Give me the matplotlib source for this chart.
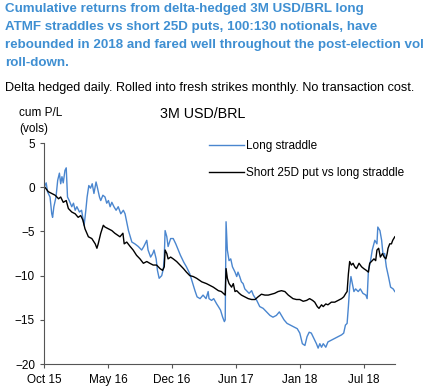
import matplotlib
matplotlib.use("Agg")
import matplotlib.pyplot as plt

# trading-day index (ticks every 150 days) and cumulative P/L in vols
straddle_days = [2, 5, 8, 14, 18, 20, 23, 28, 32, 36, 39, 42, 45, 49, 52, 55, 59, 65, 69, 73,
                 77, 83, 88, 94, 98, 101, 105, 109, 113, 117, 122, 125, 130, 133, 138, 143, 147, 151, 155, 159,
                 164, 169, 174, 180, 186, 190, 198, 206, 213, 221, 229, 234, 241, 244, 250, 255, 258, 263, 266, 270,
                 276, 280, 282, 284, 288, 291, 297, 303, 309, 315, 320, 328, 334, 342, 349, 354, 359, 366, 373, 380,
                 385, 387, 393, 398, 405, 409, 414, 419, 423, 425, 427, 430, 434, 438, 442, 448, 452, 455, 459, 463,
                 467, 471, 475, 481, 487, 491, 499, 506, 514, 522, 530, 537, 545, 552, 557, 563, 570, 578, 586, 594,
                 600, 606, 612, 617, 622, 627, 633, 639, 643, 647, 651, 655, 661, 666, 674, 682, 690, 698, 703, 707,
                 711, 714, 717, 720, 724, 727, 731, 737, 742, 748, 755, 758, 761, 766, 770, 776, 781, 783, 788, 792,
                 795, 799, 803, 808, 813, 819, 823]
straddle_pl = [0.2, 0.5, -0.5, -1.1, -3.0, -3.4, -2.2, -1.1, 0.8, 1.6, 0.4, 1.2, 0.5, 1.9, 2.2, -1.1, -1.5, -2.2, -1.8, -2.6,
               -2.2, -2.8, -2.6, -4.3, -2.6, -1.1, 0.2, -0.1, 0.4, -0.7, 0.6, 0.0, -1.1, -1.5, -0.9, -1.1, -1.8, -1.5, -2.2, -1.7,
               -2.2, -2.6, -2.2, -3.0, -2.6, -3.0, -4.9, -6.2, -6.4, -6.7, -7.1, -6.7, -6.0, -7.1, -7.9, -7.5, -7.1, -8.1, -9.4, -10.3,
               -10.0, -9.2, -7.9, -4.9, -5.6, -6.7, -5.8, -5.8, -6.4, -7.1, -7.7, -8.5, -9.0, -9.8, -10.9, -11.7, -12.4, -12.6, -12.2, -12.6,
               -11.8, -12.6, -12.8, -12.6, -13.2, -13.5, -13.9, -14.7, -15.2, -15.0, -3.9, -7.1, -8.3, -8.1, -9.0, -9.6, -10.1, -9.6, -10.1, -10.7,
               -10.9, -11.5, -11.7, -12.0, -11.7, -12.2, -12.8, -13.5, -13.7, -14.1, -14.5, -14.7, -14.5, -14.1, -14.5, -15.0, -15.4, -15.6, -15.8, -16.0,
               -16.5, -17.7, -17.9, -16.9, -16.4, -16.5, -17.1, -17.7, -18.2, -17.7, -18.1, -17.7, -18.1, -17.5, -17.3, -17.1, -16.9, -16.7, -16.5, -15.6,
               -15.4, -13.5, -11.3, -10.1, -11.1, -11.8, -11.5, -11.8, -11.5, -12.0, -12.2, -12.6, -9.4, -8.3, -7.1, -6.0, -6.4, -4.5, -4.9, -6.0,
               -7.5, -7.5, -9.0, -10.1, -11.3, -11.5, -11.8]

put_days = [2, 10, 18, 26, 34, 39, 45, 52, 57, 65, 73, 80, 86, 91, 96, 104, 112, 120, 124, 127,
            133, 139, 143, 151, 159, 166, 178, 185, 188, 194, 202, 209, 217, 225, 233, 241, 248, 256, 264, 272,
            278, 282, 284, 288, 291, 297, 303, 311, 319, 327, 334, 342, 350, 358, 370, 381, 389, 397, 409, 416,
            425, 427, 430, 434, 440, 444, 448, 452, 458, 463, 471, 479, 487, 495, 502, 510, 518, 526, 534, 541,
            549, 557, 565, 573, 584, 592, 600, 608, 616, 623, 630, 635, 641, 645, 651, 655, 661, 666, 674, 682,
            690, 698, 703, 708, 711, 714, 717, 721, 725, 729, 733, 739, 745, 750, 756, 761, 764, 768, 774, 778,
            781, 785, 789, 794, 798, 802, 805, 807, 811, 815, 818, 823]
put_pl = [0.0, -0.5, -0.7, -0.9, -1.3, -1.1, -1.7, -1.5, -2.4, -2.8, -3.0, -3.4, -3.2, -3.7, -4.7, -5.6, -5.8, -6.4, -6.9, -6.4,
          -5.2, -4.3, -4.5, -4.7, -4.9, -5.2, -5.6, -5.2, -6.4, -6.2, -6.7, -7.1, -7.7, -8.1, -8.6, -8.4, -8.6, -8.8, -8.8, -9.2,
          -9.4, -9.0, -7.1, -7.5, -8.1, -7.9, -8.1, -8.4, -8.8, -9.2, -9.6, -10.0, -10.1, -10.3, -10.7, -10.9, -11.1, -11.3, -11.7, -11.8,
          -12.2, -9.2, -10.3, -10.9, -11.3, -10.9, -11.8, -11.7, -12.0, -12.2, -12.4, -12.6, -12.7, -12.7, -12.4, -12.1, -12.2, -12.2, -12.1, -12.0,
          -11.8, -11.7, -11.8, -12.2, -12.6, -12.7, -12.7, -12.9, -12.8, -12.6, -12.8, -13.0, -13.5, -13.7, -13.3, -13.5, -13.2, -13.3, -13.0, -13.0,
          -12.8, -12.6, -12.4, -12.0, -11.8, -9.8, -8.4, -8.8, -8.6, -9.0, -9.2, -8.6, -9.0, -9.2, -9.4, -9.6, -8.6, -8.4, -8.1, -8.3,
          -7.1, -6.9, -7.9, -7.5, -7.9, -8.1, -7.5, -6.9, -6.4, -6.4, -6.0, -5.6]

tick_labels = ["Oct 15", "May 16", "Dec 16", "Jun 17", "Jan 18", "Jul 18"]
tick_pos = [0, 150, 300, 450, 600, 750]

plt.rcParams['font.family'] = ['Liberation Sans', 'DejaVu Sans']

fig = plt.figure(figsize=(4.32, 3.91), dpi=100)
ax = fig.add_axes([0.102, 0.069, 0.812, 0.565])

ax.plot(straddle_days, straddle_pl, color='#4a86cf', lw=1.0, label='Long straddle')
ax.plot(put_days, put_pl, color='black', lw=1.0, label='Short 25D put vs long straddle')

ax.set_xlim(0, 823)
ax.set_ylim(-20, 5)
ax.set_yticks([5, 0, -5, -10, -15, -20])
ax.set_xticks(tick_pos)
ax.set_xticklabels(tick_labels)
ax.tick_params(labelsize=8.5, length=3, width=0.8, color='#555555')
ax.tick_params(axis='x', pad=4)
for s in ['top', 'right']:
    ax.spines[s].set_visible(False)
for s in ['left', 'bottom']:
    ax.spines[s].set_color('#555555')
    ax.spines[s].set_linewidth(0.8)

ax.legend(loc='upper left', bbox_to_anchor=(0.44, 1.062), frameon=False, fontsize=8.5,
          handlelength=3.0, handletextpad=0.1, labelspacing=1.3)

ax.text(0.453, 1.13, '3M USD/BRL', transform=ax.transAxes, ha='center', va='center', fontsize=10.3)
fig.text(0.045, 0.69, 'cum P/L\n(vols)', ha='left', va='center', fontsize=8.5, linespacing=1.4)

title = ("Cumulative returns from delta-hedged 3M USD/BRL long\n"
         "ATMF straddles vs short 25D puts, 100:130 notionals, have\n"
         "rebounded in 2018 and fared well throughout the post-election vol\n"
         "roll-down.")
fig.text(0.012, 0.993, title, ha='left', va='top', fontsize=9.6, fontweight='bold',
         color='#3f8fd2', linespacing=1.66)
fig.text(0.012, 0.775, 'Delta hedged daily. Rolled into fresh strikes monthly. No transaction cost.',
         ha='left', va='center', fontsize=9.1)

fig.savefig('out.png', dpi=100)
